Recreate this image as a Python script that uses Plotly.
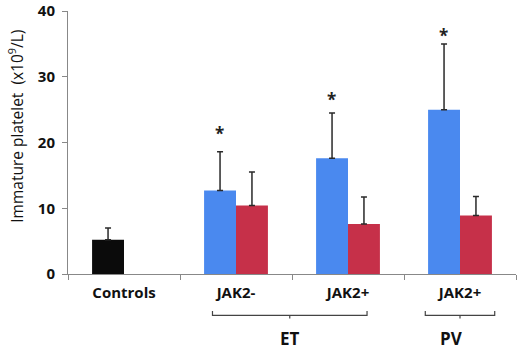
import plotly.graph_objects as go

categories = ["Controls", "JAK2-", "JAK2+", "JAK2+ "]
tick_labels = ["Controls", "JAK2-", "JAK2+", "JAK2+"]
series1_values = [5.2, 12.7, 17.6, 25.0]
series1_err = [1.8, 5.9, 6.9, 10.0]
series2_values = [None, 10.4, 7.6, 8.9]
series2_err = [None, 5.1, 4.1, 2.9]
asterisk_y = [None, 21.3, 26.6, 36.2]
groups = [("ET", 0.79, 2.17, 0), ("PV", 2.69, 3.31, -9)]

BLUE = "#4a89ef"
RED = "#c63049"
FONT = "Open Sans"

fig = go.Figure()
fig.add_trace(go.Bar(
    x=categories, y=series1_values,
    marker=dict(color=["#0b0b0b", BLUE, BLUE, BLUE], line=dict(width=0)),
    error_y=dict(type="data", array=series1_err, symmetric=False,
                 arrayminus=[0] * 4, color="#2a2a2a", thickness=1.5, width=3),
    showlegend=False,
))
fig.add_trace(go.Bar(
    x=categories, y=series2_values,
    marker=dict(color=RED, line=dict(width=0)),
    error_y=dict(type="data", array=series2_err, symmetric=False,
                 arrayminus=[0] * 4, color="#2a2a2a", thickness=1.5, width=3),
    showlegend=False,
))

# significance asterisks above the blue bars
for i, ay in enumerate(asterisk_y):
    if ay is not None:
        fig.add_annotation(x=i - 0.145, y=ay, text="<b>*</b>", showarrow=False,
                           font=dict(family=FONT, size=17, color="#222"),
                           xref="x", yref="y", yanchor="middle")

# group brackets and labels
for name, x0, x1, dx in groups:
    y_line = -0.157
    y_end = -0.141
    fig.add_shape(type="path", xref="x", yref="paper",
                  path=f"M {x0},{y_end} L {x0},{y_line} L {x1},{y_line} L {x1},{y_end}",
                  line=dict(color="#444", width=1.2))
    xm = (x0 + x1) / 2
    fig.add_shape(type="line", xref="x", yref="paper", x0=xm, x1=xm,
                  y0=y_line, y1=y_line - 0.012, line=dict(color="#444", width=1.2))
    fig.add_annotation(x=xm, y=-0.245, xref="x", yref="paper", text=f"<b>{name}</b>",
                       showarrow=False, xshift=dx,
                       font=dict(family=FONT, size=17, color="#111"),
                       yanchor="middle")

fig.add_annotation(x=-0.116, y=0.56, xref="paper", yref="paper",
                   xanchor="center", yanchor="middle",
                   text="Immature platelet  (x10<sup>9</sup>/L)", textangle=-90,
                   showarrow=False, font=dict(family=FONT, size=15.5, color="#111"))

fig.update_layout(
    width=520, height=352,
    margin=dict(l=68, r=4, t=11, b=78),
    paper_bgcolor="white", plot_bgcolor="white",
    barmode="group", bargap=0.43, bargroupgap=0,
    font=dict(family=FONT, color="#111"),
    xaxis=dict(
        type="category", tickvals=categories, ticktext=tick_labels,
        range=[-0.5, 3.5], showline=True, linecolor="#888", linewidth=1,
        ticks="outside", tickson="boundaries", ticklen=5, tickcolor="#888",
        ticklabelstandoff=5,
        tickfont=dict(family=FONT, size=15, color="#111", weight="bold"),
        showgrid=False, automargin=False,
    ),
    yaxis=dict(
        range=[0, 40], tickvals=[0, 10, 20, 30, 40], showline=True,
        linecolor="#888", linewidth=1, ticks="outside", ticklen=5, tickcolor="#888",
        ticklabelstandoff=4,
        tickfont=dict(family=FONT, size=15, color="#111", weight="bold"),
        showgrid=False, zeroline=False, automargin=False,
    ),
)

fig.write_html("out.html", config={"displayModeBar": False},
               post_script="document.body.style.margin='0';")
